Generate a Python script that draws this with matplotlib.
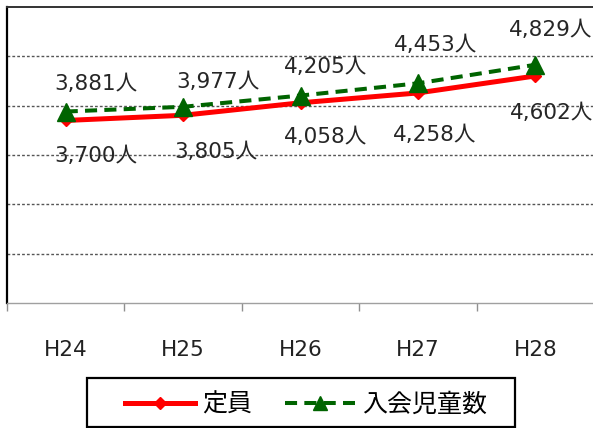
import matplotlib.pyplot as plt
from matplotlib.lines import Line2D
from matplotlib.patches import Rectangle
from matplotlib.ticker import FixedLocator

plt.rcParams["font.family"] = ["DejaVu Sans", "Noto Sans CJK JP"]

# %% data
years = ["H24", "H25", "H26", "H27", "H28"]
capacity = [3700, 3805, 4058, 4258, 4602]   # 定員
enrolled = [3881, 3977, 4205, 4453, 4829]   # 入会児童数
series_names = ["定員", "入会児童数"]

# label offsets in pixels (dx, dy) -- layout only
cap_offsets = [(30, -36), (33, -37), (25, -34), (17, -42), (16, -37)]
enr_offsets = [(30, 28), (35, 25), (25, 29), (18, 38), (15, 35)]

# %% figure
fig = plt.figure(figsize=(5.93, 4.28), dpi=100)
ax = fig.add_axes([7 / 593, 1 - 303 / 428, 587 / 593, 296 / 428])

x = list(range(len(years)))
red = "#FF0000"
green = "#006400"

ax.plot(x, capacity, color=red, lw=3.6, marker="D", ms=6.5, zorder=3)
ax.plot(x, enrolled, color=green, lw=2.9, dashes=(3, 1.8), marker="^", ms=13, zorder=4)

for i, v in enumerate(capacity):
    ax.annotate(f"{v:,}人", (x[i], v), xytext=cap_offsets[i], textcoords="offset pixels",
                ha="center", va="center", fontsize=15.5, color="#262626")
for i, v in enumerate(enrolled):
    ax.annotate(f"{v:,}人", (x[i], v), xytext=enr_offsets[i], textcoords="offset pixels",
                ha="center", va="center", fontsize=15.5, color="#262626")

# axes styling
ax.set_xlim(-0.5, len(years) - 0.5)
ax.set_ylim(0, 6000)
ax.set_yticks([])
for y in range(1000, 6000, 1000):
    ax.axhline(y, color="#555555", lw=1.0, linestyle=(0, (2, 1.5)), zorder=1)

ax.set_xticks(x)
ax.set_xticklabels(years, fontsize=15.5, color="#222222")
ax.xaxis.set_minor_locator(FixedLocator([i - 0.5 for i in range(len(years) + 1)]))
ax.tick_params(axis="x", which="major", length=0, pad=27)
ax.tick_params(axis="x", which="minor", length=6, color="#909090", width=1)

ax.spines["left"].set_linewidth(1.6)
ax.spines["left"].set_color("black")
ax.spines["top"].set_linewidth(1.4)
ax.spines["top"].set_color("#333333")
ax.spines["right"].set_visible(False)
ax.spines["bottom"].set_color("#A0A0A0")
ax.spines["bottom"].set_linewidth(1.0)

# %% legend
fig.patches.append(Rectangle((87 / 593, 1 / 428), 428 / 593, 49 / 428,
                             transform=fig.transFigure, fill=False,
                             edgecolor="black", lw=1.6))
handles = [
    Line2D([], [], color=red, lw=3.6, marker="D", ms=6),
    Line2D([], [], color=green, lw=2.9, dashes=(3, 1.8), marker="^", ms=10),
]
fig.legend(handles, series_names, loc="center", bbox_to_anchor=(306 / 593, 1 - 405 / 428),
           ncol=2, frameon=False, prop={"family": "Noto Sans CJK JP", "size": 18},
           handlelength=2.8, handletextpad=0.3, columnspacing=1.3)

plt.savefig("out.png", dpi=100)
